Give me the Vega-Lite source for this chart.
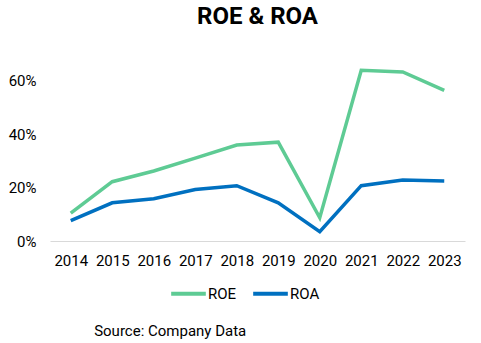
{
  "$schema": "https://vega.github.io/schema/vega-lite/v6.json",
  "padding": {"left": 8, "right": 10, "top": 5, "bottom": 6},
  "background": "white",
  "title": {"text": "Source: Company Data", "orient": "bottom", "anchor": "start", "dx": 86, "offset": 22, "font": "Roboto", "fontSize": 15, "fontWeight": "normal", "color": "#000000"},
  "config": {"font": "Roboto", "view": {"stroke": null}},
  "vconcat": [
    {
      "title": {"text": "ROE & ROA", "anchor": "middle", "font": "Roboto", "fontSize": 24, "fontWeight": "bold", "color": "#000000", "offset": 25},
      "width": 415,
      "height": 187,
      "data": {"values": [
        {"year": "2014", "metric": "ROE", "value": 0.104},
        {"year": "2015", "metric": "ROE", "value": 0.222},
        {"year": "2016", "metric": "ROE", "value": 0.262},
        {"year": "2017", "metric": "ROE", "value": 0.31},
        {"year": "2018", "metric": "ROE", "value": 0.359},
        {"year": "2019", "metric": "ROE", "value": 0.37},
        {"year": "2020", "metric": "ROE", "value": 0.087},
        {"year": "2021", "metric": "ROE", "value": 0.639},
        {"year": "2022", "metric": "ROE", "value": 0.633},
        {"year": "2023", "metric": "ROE", "value": 0.564},
        {"year": "2014", "metric": "ROA", "value": 0.076},
        {"year": "2015", "metric": "ROA", "value": 0.143},
        {"year": "2016", "metric": "ROA", "value": 0.158},
        {"year": "2017", "metric": "ROA", "value": 0.193},
        {"year": "2018", "metric": "ROA", "value": 0.207},
        {"year": "2019", "metric": "ROA", "value": 0.143},
        {"year": "2020", "metric": "ROA", "value": 0.035},
        {"year": "2021", "metric": "ROA", "value": 0.207},
        {"year": "2022", "metric": "ROA", "value": 0.228},
        {"year": "2023", "metric": "ROA", "value": 0.225}
      ]},
      "mark": {"type": "line", "strokeWidth": 3.5, "strokeJoin": "miter"},
      "encoding": {
        "x": {"field": "year", "type": "ordinal", "title": null,
          "scale": {"type": "point", "padding": 0.5},
          "axis": {"labelAngle": 0, "ticks": false, "domainColor": "#d9d9d9", "domainWidth": 1, "labelFontSize": 15, "labelColor": "#000000", "labelPadding": 12, "grid": false}},
        "y": {"field": "value", "type": "quantitative", "title": null,
          "scale": {"domain": [0, 0.7], "nice": false},
          "axis": {"values": [0, 0.2, 0.4, 0.6], "format": ".0%", "domain": false, "ticks": false, "grid": false, "labelFontSize": 15, "labelColor": "#000000", "labelPadding": 14}},
        "color": {"field": "metric", "type": "nominal", "sort": ["ROE", "ROA"],
          "scale": {"domain": ["ROE", "ROA"], "range": ["#5ecb94", "#0070c0"]},
          "legend": {"title": null, "orient": "none", "legendX": 119, "legendY": 220, "direction": "horizontal", "symbolType": "stroke", "symbolStrokeWidth": 4, "symbolSize": 1200, "labelFontSize": 15, "labelColor": "#000000", "columnPadding": 8, "labelOffset": 0}}
      }
    }
  ]
}
